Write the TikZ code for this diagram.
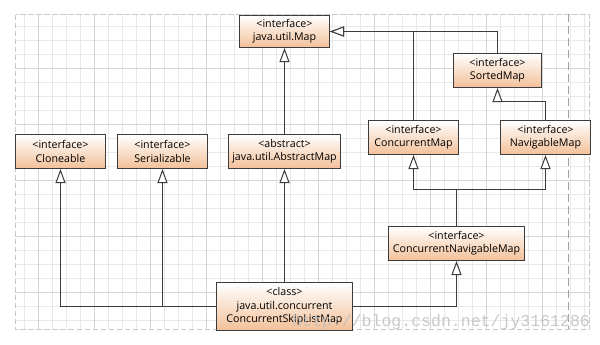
\documentclass[tikz,border=0pt]{standalone}
\usepackage{fontspec}
\setmainfont{Open Sans}
\newfontfamily\wmfont{Liberation Mono}
\usetikzlibrary{arrows.meta}
\definecolor{boxline}{RGB}{60,60,60}
\definecolor{peach}{RGB}{243,192,152}
\definecolor{gridminor}{RGB}{232,232,232}
\definecolor{gridmajor}{RGB}{212,212,212}
\definecolor{gridborder}{RGB}{200,200,200}
\definecolor{wmgrey}{RGB}{192,192,192}
\tikzset{
  umlbox/.style={draw=boxline, line width=0.75pt, top color=white, bottom color=peach,
    align=center, inner sep=0pt, font=\fontsize{8}{10}\selectfont},
  inh/.style={draw=boxline, line width=0.75pt,
    -{Triangle[length=10.5pt, width=7.5pt, fill=white]}}
}
\begin{document}
\begin{tikzpicture}[x=0.75pt, y=-0.75pt]
\useasboundingbox (0,0) rectangle (600,344);
\fill[white] (0,0) rectangle (600,344);
% grid
\foreach \i in {0,...,40} {\draw[gridminor, line width=0.75pt] ({24.5+14*\i},14) -- ({24.5+14*\i},329);}
\foreach \i in {0,...,21} {\draw[gridminor, line width=0.75pt] (15,{26.5+14*\i}) -- (590,{26.5+14*\i});}
\foreach \i in {0,...,9} {\draw[gridmajor, line width=0.75pt] ({38.5+56*\i},14) -- ({38.5+56*\i},329);}
\foreach \i in {0,...,4} {\draw[gridmajor, line width=0.75pt] (15,{68.5+56*\i}) -- (590,{68.5+56*\i});}
\draw[gridborder, line width=0.75pt, dash pattern=on 4pt off 2pt] (15.5,14.5) rectangle (589.5,329.5);
\draw[gridborder!80!black, line width=0.75pt, dash pattern=on 6pt off 3pt] (568.5,14) -- (568.5,329);
% boxes
\node[umlbox, minimum width=67.5pt, minimum height=24pt] (map) at (284.5,31.5) {<interface>\\java.util.Map};
\node[umlbox, minimum width=67.5pt, minimum height=25.5pt] (clone) at (60.5,151.5) {<interface>\\Cloneable};
\node[umlbox, minimum width=67.5pt, minimum height=25.5pt] (ser) at (162.5,151.5) {<interface>\\Serializable};
\node[umlbox, minimum width=84pt, minimum height=25.5pt] (abs) at (284.5,151.5) {<abstract>\\java.util.AbstractMap};
\node[umlbox, minimum width=66pt, minimum height=25.5pt] (smap) at (497.5,70.5) {<interface>\\SortedMap};
\node[umlbox, minimum width=67.5pt, minimum height=25.5pt] (cmap) at (413.5,137.5) {<interface>\\ConcurrentMap};
\node[umlbox, minimum width=67.5pt, minimum height=25.5pt] (nmap) at (545.5,137.5) {<interface>\\NavigableMap};
\node[umlbox, minimum width=102pt, minimum height=25.5pt] (cnm) at (456.5,243.5) {<interface>\\ConcurrentNavigableMap};
\node[umlbox, minimum width=102pt, minimum height=36pt] (skip) at (284.5,306.5) {<class>\\java.util.concurrent\\ConcurrentSkipListMap};
% connectors
\draw[inh] (abs.north) -- (map.south);
\draw[inh] (cmap.north) |- (map.east);
\draw[inh] (smap.north) |- (map.east);
\draw[inh] (nmap.north) -- ++(0,-19) -| (smap.south);
\draw[inh] (cnm.north) -- ++(0,-37) -| (cmap.south);
\draw[inh] (cnm.north) -- ++(0,-37) -| (nmap.south);
\draw[inh] (skip.east) -| (cnm.south);
\draw[inh] (skip.north) -- (abs.south);
\draw[inh] (skip.west) -| (clone.south);
\draw[inh] (skip.west) -| (ser.south);
% watermark
\node[anchor=base west, inner sep=0pt, text=wmgrey, opacity=0.85, font=\wmfont\fontsize{12.4}{14}\selectfont] (wm) at (292,326) {http://blog.csdn.net/jy3161286};
\end{tikzpicture}
\end{document}
